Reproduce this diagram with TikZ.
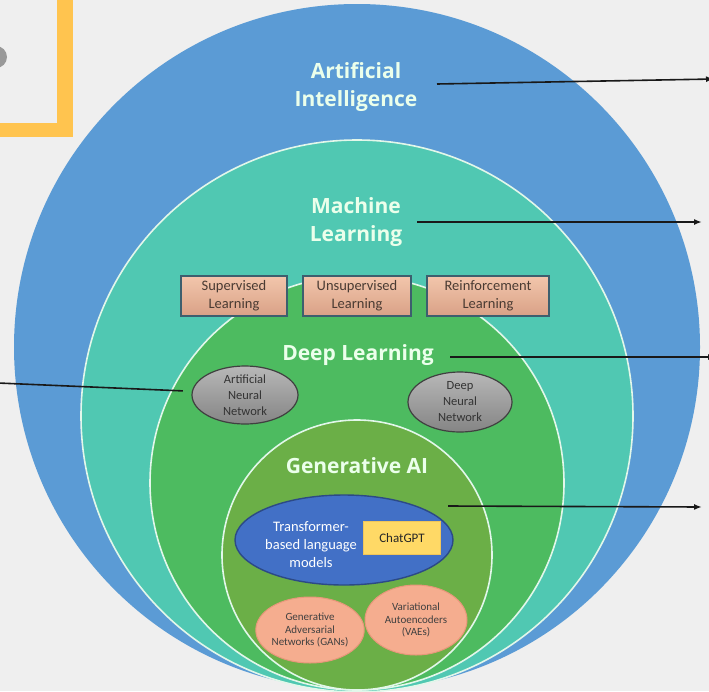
\documentclass[tikz,border=0pt]{standalone}
\usepackage{fontspec}
\setmainfont{Carlito}
\newfontfamily\titlefont{Open Sans}
\usetikzlibrary{arrows.meta,shapes.geometric}

\definecolor{bg}{HTML}{EFEFEF}
\definecolor{aiblue}{HTML}{5B9BD5}
\definecolor{mlteal}{HTML}{50C8B2}
\definecolor{dlgreen}{HTML}{4DBB60}
\definecolor{gagreen}{HTML}{6BAF47}
\definecolor{ringline}{HTML}{E2F7EA}
\definecolor{boxtop}{HTML}{F2C6AC}
\definecolor{boxbot}{HTML}{D9A186}
\definecolor{boxline}{HTML}{3D5F6E}
\definecolor{boxtext}{HTML}{4A3B33}
\definecolor{tfblue}{HTML}{4270C6}
\definecolor{tfline}{HTML}{2C4A86}
\definecolor{chatyellow}{HTML}{FFD966}
\definecolor{chatline}{HTML}{F0C55A}
\definecolor{salmon}{HTML}{F5AD8F}
\definecolor{salmonline}{HTML}{E8977A}
\definecolor{bracket}{HTML}{FFC44F}

\begin{document}
\begin{tikzpicture}[x=1pt,y=-1pt,
    title/.style={font=\titlefont\bfseries\fontsize{21}{28}\selectfont,
      text=white!92!green, align=center},
    ring/.style={draw=ringline, line width=1.6pt},
    mlbox/.style={rectangle, draw=boxline, line width=1.3pt,
      top color=boxtop, bottom color=boxbot, minimum height=40pt,
      inner sep=0pt, align=center, text=boxtext,
      font=\fontsize{14.5}{18}\selectfont},
    nnet/.style={ellipse, draw=black!75, line width=1.2pt,
      top color=black!28, bottom color=black!48, inner sep=0pt,
      minimum width=106pt, minimum height=58pt, align=center,
      text=black!80, font=\fontsize{12.5}{16}\selectfont},
    genbub/.style={ellipse, draw=salmonline, line width=1pt, fill=salmon,
      inner sep=0pt, align=center, text=black!75,
      font=\fontsize{11}{12.5}\selectfont},
    arr/.style={draw=black!90, line width=1.6pt,
      -{Latex[length=8pt,width=6pt]}},
    link/.style={draw=black!90, line width=1.6pt}
  ]
  \useasboundingbox (0,0) rectangle (709,691);
  \clip (0,0) rectangle (709,691);
  \fill[bg] (0,0) rectangle (709,691);

  % corner mark
  \fill[black!40] (-4,57) circle (11);
  \fill[bracket] (57,-2) rectangle (73,137);
  \fill[bracket] (-2,123) rectangle (73,137);

  % nested fields
  \fill[aiblue] (357,347) circle (343);
  \filldraw[ring, fill=mlteal] (357,416) circle (276);
  \filldraw[ring, fill=dlgreen] (357,483) circle (207);
  \filldraw[ring, fill=gagreen] (357,555) circle (135);

  \node[title] (ai) at (356,87) {Artificial\\Intelligence};
  \node[title] (ml) at (356,222) {Machine\\Learning};
  \node[title] (dl) at (358,355) {Deep Learning};
  \node[title] (ga) at (357,466) {Generative AI};

  \node[mlbox, minimum width=106pt] (sup) at (234,296) {Supervised\\Learning};
  \node[mlbox, minimum width=108pt] (uns) at (357,296) {Unsupervised\\Learning};
  \node[mlbox, minimum width=122pt] (rei) at (488,296) {Reinforcement\\Learning};

  \node[nnet] (ann) at (245,395) {Artificial\\Neural\\Network};
  \node[nnet, minimum width=104pt, minimum height=60pt] (dnn) at (460,402) {Deep\\Neural\\Network};

  \node[ellipse, draw=tfline, line width=1.4pt, fill=tfblue,
    minimum width=218pt, minimum height=90pt] (tf) at (344,540) {};
  \node[align=center, text=white, font=\fontsize{14.5}{18}\selectfont]
    (tftext) at (311,545) {Transformer-\\based language\\models};
  \node[draw=chatline, line width=1pt, fill=chatyellow, minimum width=77pt,
    minimum height=33pt, inner sep=0pt, text=black!85,
    font=\fontsize{13}{14}\selectfont] (chat) at (402,538) {ChatGPT};

  \node[genbub, minimum width=106pt, minimum height=66pt] (gan) at (310,630)
    {Generative\\Adversarial\\Networks (GANs)};
  \node[genbub, minimum width=102pt, minimum height=70pt] (vae) at (416,620)
    {Variational\\Autoencoders\\(VAEs)};

  % pointers
  \coordinate (aiA) at (437,84);   \coordinate (aiB) at (714,79);
  \coordinate (mlA) at (417,222);  \coordinate (mlB) at (702,222);
  \coordinate (dlA) at (450,357);  \coordinate (dlB) at (716,357);
  \coordinate (gaA) at (448,506);  \coordinate (gaB) at (702,507);
  \coordinate (annA) at (-2,383);

  \draw[arr] (aiA) -- (aiB);
  \draw[arr] (mlA) -- (mlB);
  \draw[arr] (dlA) -- (dlB);
  \draw[arr] (gaA) -- (gaB);
  \draw[link, shorten >=9pt] (annA) -- (ann.176);
\end{tikzpicture}
\end{document}
